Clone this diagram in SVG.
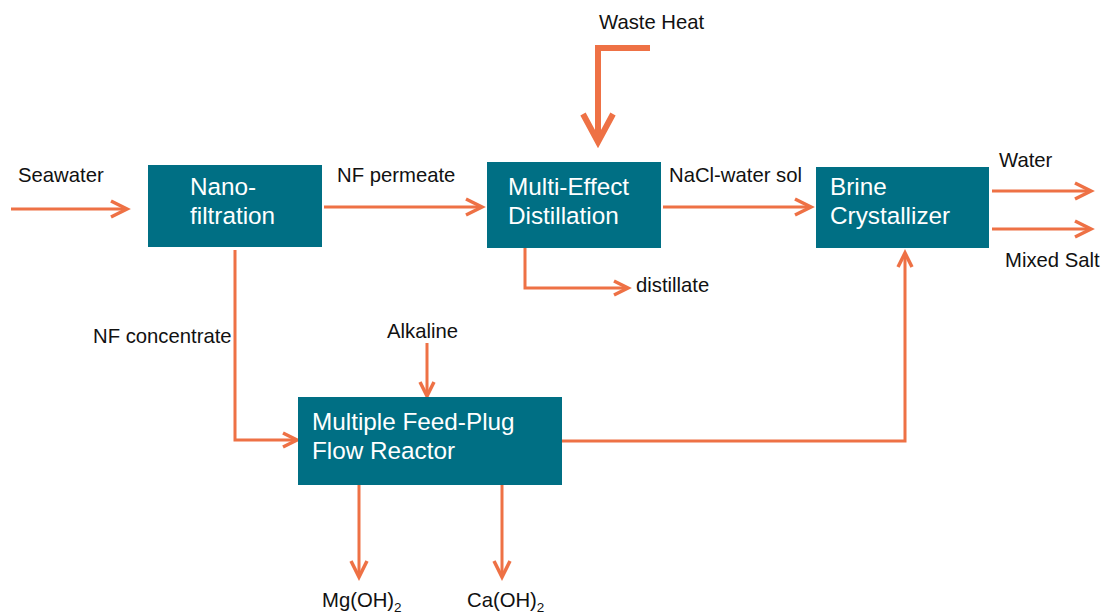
<svg xmlns="http://www.w3.org/2000/svg" width="1105" height="615" viewBox="0 0 1105 615">
<style>
.box{fill:#006F84;}
.bt{font-family:"Liberation Sans",Arial,sans-serif;font-size:24.3px;fill:#ffffff;}
.lb{font-family:"Liberation Sans",Arial,sans-serif;font-size:20.3px;fill:#111111;}
.ln{fill:none;stroke:#EE7145;stroke-width:3;stroke-linejoin:miter;}
.hd{fill:none;stroke:#EE7145;stroke-width:3.5;stroke-linecap:butt;stroke-linejoin:miter;}
</style>
<rect width="1105" height="615" fill="#ffffff"/>
<g id="connectors">
  <!-- Seawater -->
  <path class="ln" d="M11 209 H126"/>
  <path class="hd" d="M111 201 L127 209 L111 217"/>
  <!-- NF permeate -->
  <path class="ln" d="M324 207 H481"/>
  <path class="hd" d="M466 199 L482 207 L466 215"/>
  <!-- NaCl-water sol -->
  <path class="ln" d="M663 207 H810"/>
  <path class="hd" d="M795 199 L811 207 L795 215"/>
  <!-- Water -->
  <path class="ln" d="M992 191 H1090"/>
  <path class="hd" d="M1075 183 L1091 191 L1075 199"/>
  <!-- Mixed Salt -->
  <path class="ln" d="M992 229 H1090"/>
  <path class="hd" d="M1075 221 L1091 229 L1075 237"/>
  <!-- Waste heat -->
  <path d="M650 48 H598 V140" fill="none" stroke="#EE7145" stroke-width="6"/>
  <path d="M583 114 L598 142 L613 114" fill="none" stroke="#EE7145" stroke-width="6"/>
  <!-- distillate -->
  <path class="ln" d="M525 248 V288 H626"/>
  <path class="hd" d="M614 281 L628 288 L614 295"/>
  <!-- NF concentrate -->
  <path class="ln" d="M235 250 V440 H296"/>
  <path class="hd" d="M283 433 L297 440 L283 447"/>
  <!-- Alkaline -->
  <path class="ln" d="M427 343 V395"/>
  <path class="hd" d="M420 382 L427 396 L434 382"/>
  <!-- Reactor to Brine -->
  <path class="ln" d="M562 441 H905 V254"/>
  <path class="hd" d="M898 267 L905 253 L912 267"/>
  <!-- Mg(OH)2 -->
  <path class="ln" d="M359 485 V576"/>
  <path class="hd" d="M351 561 L359 577 L367 561"/>
  <!-- Ca(OH)2 -->
  <path class="ln" d="M502 485 V576"/>
  <path class="hd" d="M494 561 L502 577 L510 561"/>
</g>
<g id="nanofiltration">
  <rect class="box" x="148" y="165" width="174" height="82"/>
  <text class="bt" x="190" y="195">Nano-</text>
  <text class="bt" x="190" y="224">filtration</text>
</g>
<g id="med">
  <rect class="box" x="487" y="162" width="174" height="86"/>
  <text class="bt" x="508" y="195">Multi-Effect</text>
  <text class="bt" x="508" y="224">Distillation</text>
</g>
<g id="brine">
  <rect class="box" x="816" y="167" width="173" height="81"/>
  <text class="bt" x="830" y="195">Brine</text>
  <text class="bt" x="830" y="224">Crystallizer</text>
</g>
<g id="reactor">
  <rect class="box" x="298" y="397" width="264" height="88"/>
  <text class="bt" x="312" y="430">Multiple Feed-Plug</text>
  <text class="bt" x="312" y="459">Flow Reactor</text>
</g>
<g id="labels">
  <text class="lb" x="18" y="182">Seawater</text>
  <text class="lb" x="337" y="182">NF permeate</text>
  <text class="lb" x="669" y="182">NaCl-water sol</text>
  <text class="lb" x="999" y="167">Water</text>
  <text class="lb" x="1005" y="267">Mixed Salt</text>
  <text class="lb" x="599" y="29">Waste Heat</text>
  <text class="lb" x="636" y="292">distillate</text>
  <text class="lb" x="93" y="343">NF concentrate</text>
  <text class="lb" x="387" y="338">Alkaline</text>
  <text class="lb" x="322" y="607">Mg(OH)<tspan font-size="13.5" dy="5">2</tspan></text>
  <text class="lb" x="467" y="607">Ca(OH)<tspan font-size="13.5" dy="5">2</tspan></text>
</g>
</svg>
